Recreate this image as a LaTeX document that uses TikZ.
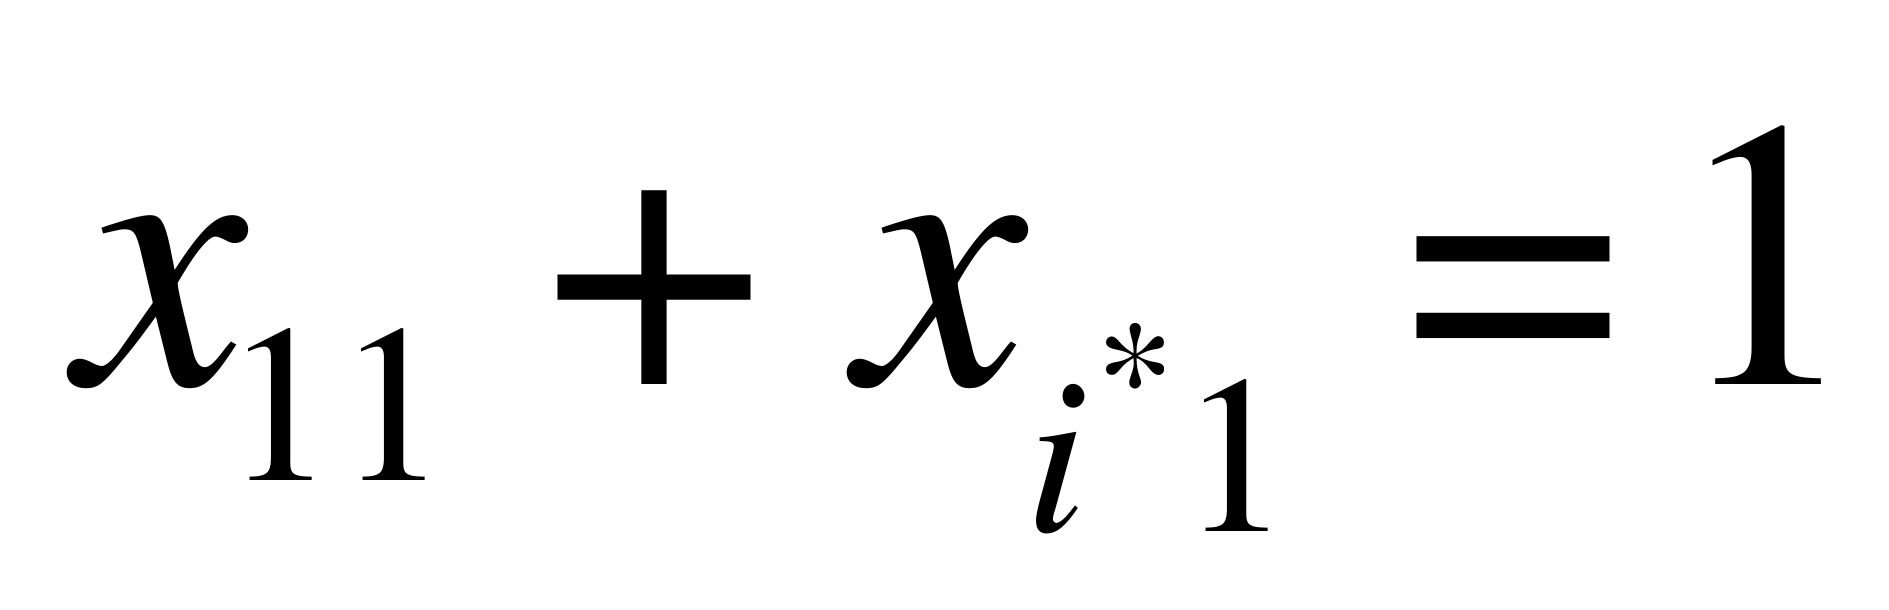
\documentclass[tikz,border=0pt]{standalone}
\usepackage[T1]{fontenc}
\usepackage{mathptmx}
\usepackage{tikz}

\begin{document}
\begin{tikzpicture}[x=0.1pt,y=-0.1pt]
    \tikzstyle{big} = [inner sep=0pt,anchor=base west,font=\fontsize{38.3pt}{40pt}\selectfont]
    \tikzstyle{small} = [inner sep=0pt,anchor=base west,font=\fontsize{22.5pt}{24pt}\selectfont]
    \tikzstyle{tiny} = [inner sep=0pt,anchor=base west,font=\fontsize{16pt}{18pt}\selectfont]
    \useasboundingbox (0,0) rectangle (1889,609);

    \node[big] (x1) at (75,384) {\textit{x}};
    \node[small] (s11) at (222,480) {11};
    \node[big] (plus) at (545,384) {+};
    \node[big] (x2) at (856,384) {\textit{x}};
    \node[small] (si) at (1024,531) {\textit{i}};
    \node[tiny] (star) at (1094,431) {*};
    \node[small] (s1) at (1178,531) {1};
    \node[big] (eq) at (1404,384) {=};
    \node[big] (one) at (1669,384) {1};
    
\end{tikzpicture}
\end{document}
